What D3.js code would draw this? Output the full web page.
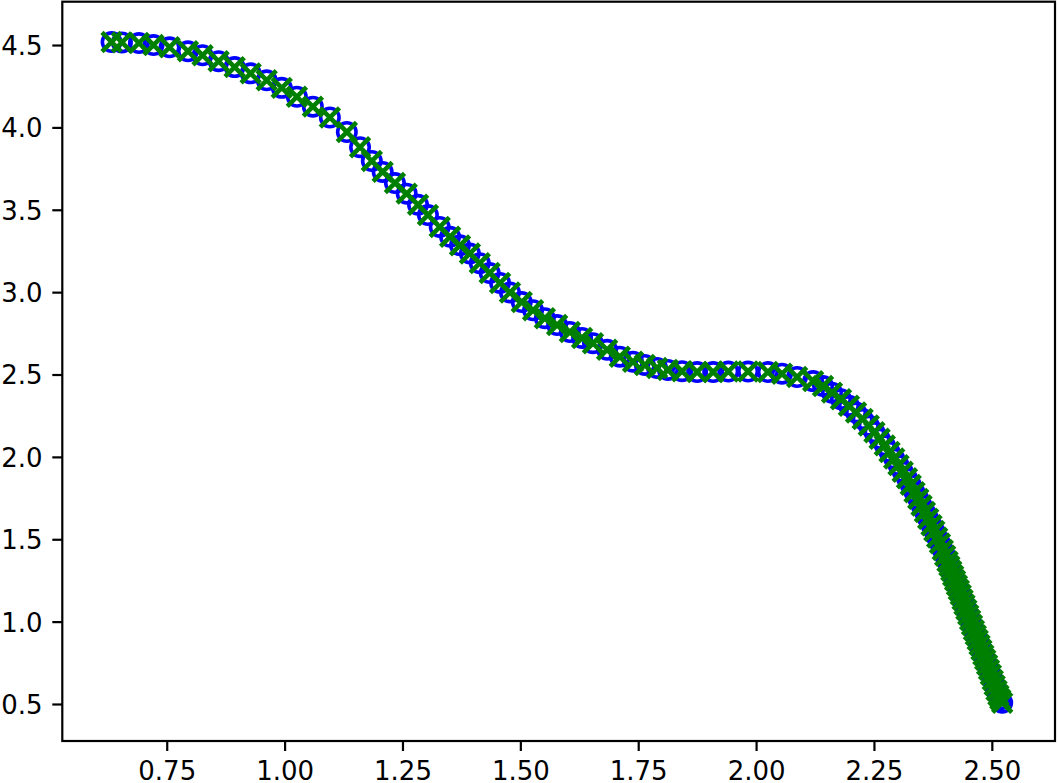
<!DOCTYPE html>
<html>
<head>
<meta charset="utf-8">
<script src="https://cdn.jsdelivr.net/npm/d3@7"></script>
<style>
  html, body { margin: 0; padding: 0; background: #fff; }
  #container { width: 1058px; height: 783px; }
  text { font-family: "DejaVu Sans", sans-serif; }
</style>
</head>
<body>
<div id="container"></div>
<script>
// axis limits and ticks
const xLimits = [0.5285, 2.634];
const yLimits = [0.2754, 4.763];
const xTicks = [0.75, 1.00, 1.25, 1.50, 1.75, 2.00, 2.25, 2.50];
const yTicks = [0.5, 1.0, 1.5, 2.0, 2.5, 3.0, 3.5, 4.0, 4.5];

// sampled points (same x for both series)
const xValues = [
  0.633, 0.655, 0.691, 0.722, 0.756, 0.795, 0.826, 0.860, 0.894, 0.928,
  0.962, 0.994, 1.026, 1.060, 1.096, 1.132, 1.160, 1.185, 1.208, 1.234,
  1.259, 1.283, 1.304, 1.329, 1.351, 1.372, 1.393, 1.414, 1.435, 1.457,
  1.478, 1.503, 1.527, 1.552, 1.578, 1.605, 1.631, 1.654, 1.684, 1.711,
  1.739, 1.764, 1.790, 1.813, 1.843, 1.875, 1.909, 1.941, 1.983, 2.025,
  2.055, 2.087, 2.121, 2.142, 2.161, 2.180, 2.197, 2.212, 2.226, 2.239,
  2.251, 2.262, 2.273, 2.283, 2.293, 2.302, 2.311, 2.320, 2.328, 2.336,
  2.344, 2.351, 2.358, 2.365, 2.372, 2.378, 2.384, 2.390, 2.396, 2.401,
  2.406, 2.410, 2.414, 2.418, 2.422, 2.426, 2.430, 2.434, 2.438, 2.442,
  2.446, 2.450, 2.454, 2.458, 2.462, 2.466, 2.470, 2.474, 2.478, 2.482,
  2.486, 2.490, 2.494, 2.498, 2.502, 2.506, 2.510, 2.514, 2.518, 2.522
];
const yCircles = [
  4.518, 4.516, 4.512, 4.500, 4.486, 4.462, 4.438, 4.402, 4.366, 4.328,
  4.286, 4.240, 4.186, 4.126, 4.060, 3.972, 3.880, 3.796, 3.730, 3.662,
  3.598, 3.530, 3.468, 3.396, 3.336, 3.284, 3.234, 3.176, 3.116, 3.056,
  2.998, 2.940, 2.890, 2.842, 2.800, 2.758, 2.722, 2.690, 2.650, 2.608,
  2.578, 2.558, 2.540, 2.528, 2.520, 2.515, 2.515, 2.518, 2.518, 2.515,
  2.505, 2.485, 2.460, 2.430, 2.390, 2.350, 2.310, 2.270, 2.230, 2.190,
  2.150, 2.110, 2.070, 2.030, 1.990, 1.950, 1.910, 1.870, 1.830, 1.785,
  1.745, 1.705, 1.665, 1.625, 1.585, 1.550, 1.510, 1.475, 1.435, 1.400,
  1.365, 1.337, 1.308, 1.279, 1.250, 1.221, 1.192, 1.163, 1.133, 1.103,
  1.072, 1.041, 1.010, 0.979, 0.948, 0.918, 0.888, 0.858, 0.828, 0.798,
  0.768, 0.738, 0.708, 0.678, 0.645, 0.613, 0.582, 0.553, 0.528, 0.508
];
const yCrosses = yCircles.slice();

const margin = {top: 1.7, right: 3, bottom: 42, left: 62.3};
const fullWidth = 1058, fullHeight = 783;
const width = fullWidth - margin.left - margin.right;
const height = fullHeight - margin.top - margin.bottom;

const svg = d3.select("#container")
  .append("svg")
  .attr("width", fullWidth)
  .attr("height", fullHeight)
  .append("g")
  .attr("transform", `translate(${margin.left},${margin.top})`);

const x = d3.scaleLinear().domain(xLimits).range([0, width]);
const y = d3.scaleLinear().domain(yLimits).range([height, 0]);

const points = xValues.map((v, i) => ({x: v, yc: yCircles[i], yx: yCrosses[i]}));

const plot = svg.append("g");

// blue hollow circles
plot.selectAll(".circ")
  .data(points)
  .enter()
  .append("circle")
  .attr("class", "circ")
  .attr("cx", d => x(d.x))
  .attr("cy", d => y(d.yc))
  .attr("r", 9.2)
  .attr("fill", "none")
  .attr("stroke", "#0000ff")
  .attr("stroke-width", 3.6);

// green x markers
const s = 9.6;
plot.selectAll(".cross")
  .data(points)
  .enter()
  .append("path")
  .attr("class", "cross")
  .attr("transform", d => `translate(${x(d.x)},${y(d.yx)})`)
  .attr("d", `M${-s},${-s}L${s},${s}M${-s},${s}L${s},${-s}`)
  .attr("fill", "none")
  .attr("stroke", "#008000")
  .attr("stroke-width", 4.6);

// x axis
const xAxis = svg.append("g")
  .attr("transform", `translate(0,${height})`)
  .call(d3.axisBottom(x).tickValues(xTicks).tickFormat(d3.format(".2f")).tickSize(10).tickSizeOuter(0));
xAxis.select(".domain").remove();
xAxis.selectAll("line").attr("stroke", "#000").attr("stroke-width", 2.2);
xAxis.selectAll("text")
  .attr("y", 38.5)
  .attr("dy", 0)
  .attr("fill", "#000")
  .style("font-size", "26px");

// y axis
const yAxis = svg.append("g")
  .call(d3.axisLeft(y).tickValues(yTicks).tickFormat(d3.format(".1f")).tickSize(10).tickPadding(9.7).tickSizeOuter(0));
yAxis.select(".domain").remove();
yAxis.selectAll("line").attr("stroke", "#000").attr("stroke-width", 2.2);
yAxis.selectAll("text")
  .attr("dy", "0.36em")
  .attr("fill", "#000")
  .style("font-size", "26px");

// frame
svg.append("rect")
  .attr("x", 0)
  .attr("y", 0)
  .attr("width", width)
  .attr("height", height)
  .attr("fill", "none")
  .attr("stroke", "#000")
  .attr("stroke-width", 2.2);
</script>
</body>
</html>
